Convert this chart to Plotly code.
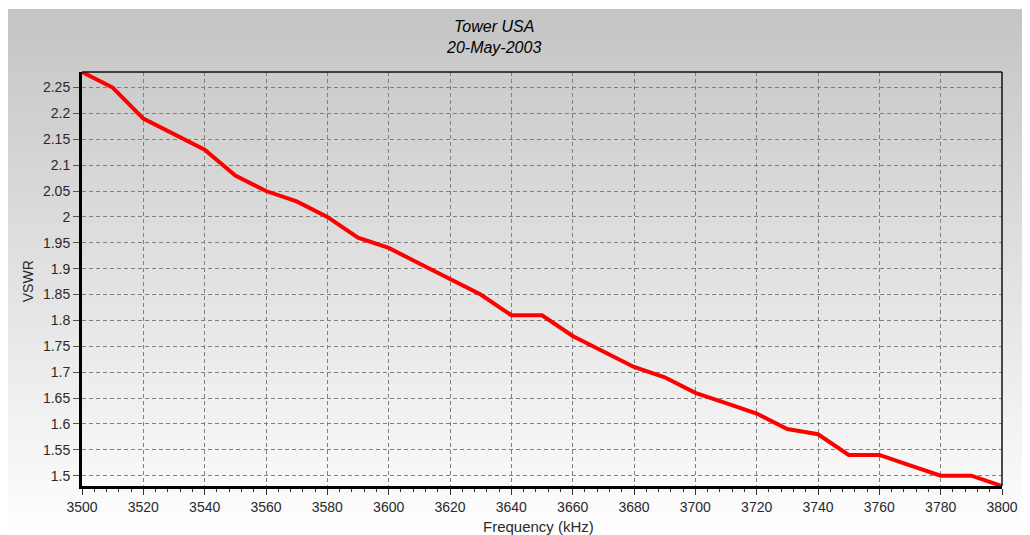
import plotly.graph_objects as go

# ---- data ----
freq_khz = [3500, 3510, 3520, 3530, 3540, 3550, 3560, 3570, 3580, 3590,
            3600, 3610, 3620, 3630, 3640, 3650, 3660, 3670, 3680, 3690,
            3700, 3710, 3720, 3730, 3740, 3750, 3760, 3770, 3780, 3790, 3800]
vswr = [2.28, 2.25, 2.19, 2.16, 2.13, 2.08, 2.05, 2.03, 2.00, 1.96,
        1.94, 1.91, 1.88, 1.85, 1.81, 1.81, 1.77, 1.74, 1.71, 1.69,
        1.66, 1.64, 1.62, 1.59, 1.58, 1.54, 1.54, 1.52, 1.50, 1.50, 1.48]
y_tick_vals = [1.5, 1.55, 1.6, 1.65, 1.7, 1.75, 1.8, 1.85, 1.9, 1.95,
               2.0, 2.05, 2.1, 2.15, 2.2, 2.25]
y_tick_text = ["1.5", "1.55", "1.6", "1.65", "1.7", "1.75", "1.8", "1.85", "1.9", "1.95",
               "2", "2.05", "2.1", "2.15", "2.2", "2.25"]
x_tick_vals = [3500, 3520, 3540, 3560, 3580, 3600, 3620, 3640, 3660, 3680,
               3700, 3720, 3740, 3760, 3780, 3800]
title_lines = ["Tower USA", "20-May-2003"]

OFF = 8                      # page body margin offset
W, H = 1030 - OFF, 535 - OFF
# plot area bounds in screen pixels -> figure pixels
L, R, T, B = 82 - OFF, 1006 - OFF, 72 - OFF, 486 - OFF

def px2paper_x(sx):
    return (sx - OFF - L) / (R - L)

def px2paper_y(sy):
    return (B - (sy - OFF)) / (B - T)

fig = go.Figure()
fig.add_trace(go.Scatter(x=freq_khz, y=vswr, mode="lines",
                         line=dict(color="#ff0000", width=4), hoverinfo="skip",
                         showlegend=False))

shapes = []
# gradient background (stripes), screen y 9..535
top_px, bot_px = 9, 540
n = 90
c0, c1 = 196, 255
for i in range(n):
    y0 = top_px + (bot_px - top_px) * i / n
    y1 = top_px + (bot_px - top_px) * (i + 1) / n + 0.6
    v = int(round(c0 + (c1 - c0) * (i + 0.5) / n))
    shapes.append(dict(type="rect", xref="paper", yref="paper", layer="below",
                       x0=px2paper_x(7), x1=px2paper_x(1035),
                       y0=px2paper_y(y1), y1=px2paper_y(y0),
                       fillcolor=f"rgb({v},{v},{v})", line=dict(width=0)))
# frame: thin top/right
shapes.append(dict(type="line", xref="paper", yref="paper", x0=0, x1=1, y0=1, y1=1,
                   line=dict(color="#111111", width=1.5)))
shapes.append(dict(type="line", xref="paper", yref="paper", x0=1, x1=1, y0=0, y1=1,
                   line=dict(color="#111111", width=1.5)))

FONT = "Liberation Sans, Arial, sans-serif"

fig.update_layout(
    width=W, height=H,
    margin=dict(l=L, r=W - R, t=T, b=H - B),
    paper_bgcolor="white",
    plot_bgcolor="rgba(0,0,0,0)",
    font=dict(family=FONT, size=14, color="#2a2a2a"),
    shapes=shapes,
    showlegend=False,
    annotations=[
        dict(text="<i>" + "<br>".join(title_lines) + "</i>", xref="paper", yref="paper",
             x=px2paper_x(495), y=px2paper_y(37), xanchor="center", yanchor="middle",
             showarrow=False, font=dict(size=16, color="#000000", family=FONT)),
        dict(text="VSWR", textangle=-90, xref="paper", yref="paper",
             x=px2paper_x(28), y=px2paper_y(281), xanchor="center", yanchor="middle",
             showarrow=False, font=dict(size=14, color="#2a2a2a", family=FONT)),
        dict(text="Frequency (kHz)", xref="paper", yref="paper",
             x=px2paper_x(540), y=px2paper_y(526), xanchor="center", yanchor="middle",
             showarrow=False, font=dict(size=15, color="#2a2a2a", family=FONT)),
    ],
)

fig.update_xaxes(
    range=[3500, 3800], tickvals=x_tick_vals, ticks="outside", ticklen=6,
    tickcolor="#333333", tickwidth=1,
    showline=True, linecolor="black", linewidth=3,
    showgrid=True, gridcolor="#808080", griddash="4px,3px", gridwidth=1,
    zeroline=False, tickfont=dict(size=14, color="#2a2a2a", family=FONT),
    minor=dict(dtick=4, tick0=3500, ticks="outside", ticklen=3, tickcolor="#333333",
               showgrid=False),
)
fig.update_yaxes(
    range=[1.48, 2.28], tickvals=y_tick_vals, ticktext=y_tick_text,
    ticks="outside", ticklen=6, tickcolor="#555555",
    showline=True, linecolor="black", linewidth=3,
    showgrid=True, gridcolor="#808080", griddash="4px,3px", gridwidth=1,
    zeroline=False, tickfont=dict(size=14, color="#2a2a2a", family=FONT),
)

fig.write_html("out.html")
